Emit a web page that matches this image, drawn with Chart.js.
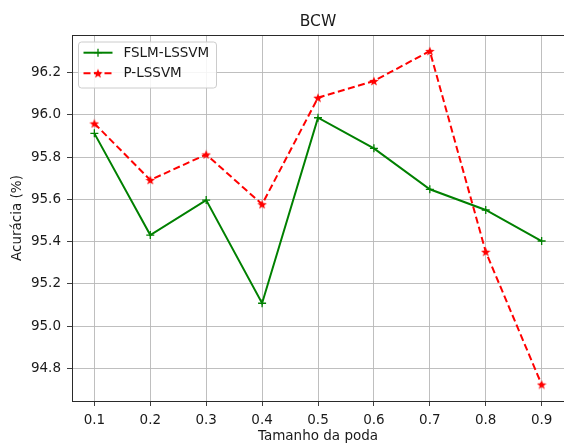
<!DOCTYPE html>
<html>
<head>
<meta charset="utf-8">
<script src="https://cdn.jsdelivr.net/npm/chart.js@4.4.1/dist/chart.umd.min.js"></script>
<style>
  body { margin: 0; background: #fff; }
  #wrap { width: 564px; height: 443px; }
</style>
</head>
<body>
<div id="wrap"><canvas id="chart" width="564" height="443"></canvas></div>
<script>
// Datos
const tamanhoPoda = [0.1, 0.2, 0.3, 0.4, 0.5, 0.6, 0.7, 0.8, 0.9];
const fslmLssvm = [95.913, 95.431, 95.597, 95.108, 95.987, 95.842, 95.648, 95.55, 95.403];
const pLssvm = [95.96, 95.692, 95.813, 95.577, 96.082, 96.161, 96.303, 95.352, 94.723];
const yTicks = [94.8, 95.0, 95.2, 95.4, 95.6, 95.8, 96.0, 96.2];
const seriesNames = ['FSLM-LSSVM', 'P-LSSVM'];
const chartTitle = 'BCW';
const xTitle = 'Tamanho da poda';

const FONT = "'DejaVu Sans', sans-serif";
const TEXT = '#1a1a1a';
const FS = 13.5;
const DASH = [7, 3.5];

// estrella rellena para el marcador '*'
function makeStar(size, color) {
    const c = document.createElement('canvas');
    c.width = size; c.height = size;
    const ctx = c.getContext('2d');
    const r = size / 2, ri = r * 0.42;
    ctx.beginPath();
    for (let i = 0; i < 10; i++) {
        const rad = i % 2 === 0 ? r : ri;
        const a = -Math.PI / 2 + i * Math.PI / 5;
        const px = r + rad * Math.cos(a), py = r + rad * Math.sin(a) + 0.5;
        i === 0 ? ctx.moveTo(px, py) : ctx.lineTo(px, py);
    }
    ctx.closePath();
    ctx.fillStyle = color;
    ctx.fill();
    return c;
}
const starImg = makeStar(10, '#ff0000');

const toPoints = vals => vals.map((v, i) => ({x: tamanhoPoda[i], y: v}));

// título, marco, título del eje x y leyenda
const decorations = {
    id: 'decorations',
    afterDraw(chart) {
        const {ctx, chartArea: a} = chart;
        const cx = (a.left + a.right) / 2;
        ctx.save();
        ctx.strokeStyle = '#2a2a2a';
        ctx.lineWidth = 1;
        ctx.strokeRect(a.left + 0.5, a.top + 0.5, a.right - a.left + 2, a.bottom - a.top);

        ctx.fillStyle = TEXT;
        ctx.textAlign = 'center';
        ctx.textBaseline = 'alphabetic';
        ctx.font = `15.5px ${FONT}`;
        ctx.fillText(chartTitle, cx, 25.5);
        ctx.font = `${FS}px ${FONT}`;
        ctx.fillText(xTitle, cx, 439.5);

        // leyenda
        const bx = 78, by = 41.5, bw = 138, bh = 46;
        ctx.beginPath();
        ctx.roundRect(bx + 0.5, by + 0.5, bw, bh, 3);
        ctx.fillStyle = 'rgba(255,255,255,0.85)';
        ctx.fill();
        ctx.strokeStyle = '#cccccc';
        ctx.stroke();

        ctx.textBaseline = 'middle';
        const rows = [
            {y: 52.7, color: '#008000', dash: [], marker: 'cross'},
            {y: 73.3, color: '#ff0000', dash: DASH, marker: 'star'}
        ];
        rows.forEach((r, i) => {
            ctx.strokeStyle = r.color;
            ctx.lineWidth = 2;
            ctx.setLineDash(r.dash);
            ctx.beginPath();
            ctx.moveTo(83.5, r.y);
            ctx.lineTo(112.5, r.y);
            ctx.stroke();
            ctx.setLineDash([]);
            if (r.marker === 'cross') {
                ctx.lineWidth = 1.3;
                ctx.beginPath();
                ctx.moveTo(98, r.y - 4); ctx.lineTo(98, r.y + 4);
                ctx.moveTo(94, r.y); ctx.lineTo(102, r.y);
                ctx.stroke();
            } else {
                ctx.drawImage(starImg, 98 - 5, r.y - 5);
            }
            ctx.fillStyle = TEXT;
            ctx.font = `${FS}px ${FONT}`;
            ctx.textAlign = 'left';
            ctx.fillText(seriesNames[i], 123.5, r.y + 0.5);
        });
        ctx.restore();
    }
};

new Chart(document.getElementById('chart'), {
    type: 'line',
    data: {
        datasets: [
            {
                label: seriesNames[0],
                data: toPoints(fslmLssvm),
                borderColor: '#008000',
                backgroundColor: '#008000',
                borderWidth: 2,
                pointStyle: 'cross',
                pointRadius: 4,
                pointBorderWidth: 1.3,
                tension: 0
            },
            {
                label: seriesNames[1],
                data: toPoints(pLssvm),
                borderColor: '#ff0000',
                backgroundColor: '#ff0000',
                borderWidth: 2,
                borderDash: DASH,
                pointStyle: starImg,
                tension: 0
            }
        ]
    },
    options: {
        responsive: false,
        animation: false,
        layout: { autoPadding: false, padding: { top: 35, right: 0, left: 0, bottom: 0 } },
        plugins: {
            legend: { display: false },
            title: { display: false },
            tooltip: { enabled: false }
        },
        scales: {
            x: {
                type: 'linear',
                min: 0.06,
                max: 0.94,
                afterBuildTicks: scale => { scale.ticks = tamanhoPoda.map(v => ({value: v})); },
                afterFit: scale => { scale.height = 42; scale.paddingLeft = 0; scale.paddingRight = 0; },
                ticks: {
                    color: TEXT,
                    font: { family: FONT, size: FS },
                    padding: 6,
                    maxRotation: 0,
                    callback: v => v.toFixed(1)
                },
                grid: { color: '#b8b8b8', lineWidth: 0.9, tickLength: 5, tickColor: '#2a2a2a' },
                border: { display: false },
                title: { display: false }
            },
            y: {
                min: 94.645,
                max: 96.379,
                afterBuildTicks: scale => { scale.ticks = yTicks.map(v => ({value: v})); },
                afterFit: scale => { scale.width = 72; },
                ticks: {
                    color: TEXT,
                    font: { family: FONT, size: FS },
                    padding: 6,
                    callback: v => v.toFixed(1)
                },
                grid: { color: '#b8b8b8', lineWidth: 0.9, tickLength: 5, tickColor: '#2a2a2a' },
                border: { display: false },
                title: {
                    display: true,
                    text: 'Acurácia (%)',
                    color: TEXT,
                    font: { family: FONT, size: FS },
                    padding: { top: 9, bottom: 0 }
                }
            }
        }
    },
    plugins: [decorations]
});
</script>
</body>
</html>
